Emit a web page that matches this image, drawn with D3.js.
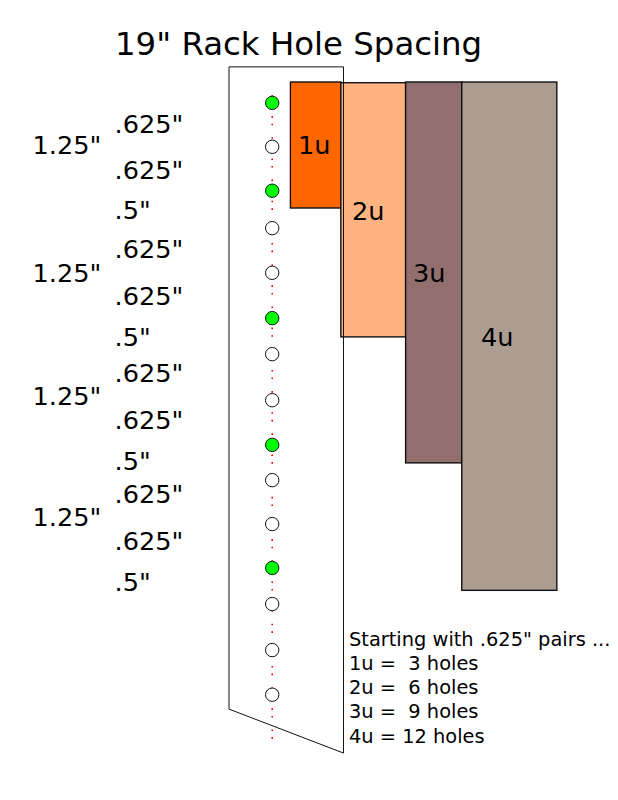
<!DOCTYPE html>
<html>
<head>
<meta charset="utf-8">
<script src="https://cdn.jsdelivr.net/npm/d3@7"></script>
<style>
  body { margin: 0; background: white; }
  text { font-family: "DejaVu Sans", sans-serif; fill: black; white-space: pre; }
</style>
</head>
<body>
<div id="chart"></div>
<script>
const holeOffsets = [0.29, 0.90, 1.51, 2.03, 2.65, 3.28, 3.78, 4.42, 5.04, 5.53, 6.14, 6.75, 7.25, 7.89, 8.51];
const holeMarked = [1, 0, 1, 0, 0, 1, 0, 0, 1, 0, 0, 1, 0, 0, 0];

const unitNames = ["1u", "2u", "3u", "4u"];
const unitLeft = [0.86, 1.56, 2.46, 3.24];
const unitRight = [1.56, 2.46, 3.24, 4.56];
const unitTop = [0, 0.01, 0, 0];
const unitBottom = [1.75, 3.54, 5.29, 7.06];
const unitColors = ["#ff6600", "#ffb380", "#916f6f", "#ac9d93"];

const spacingLabels = ['.625"', '.625"', '.5"', '.625"', '.625"', '.5"', '.625"', '.625"', '.5"', '.625"', '.625"', '.5"'];
const groupLabels = ['1.25"', '1.25"', '1.25"', '1.25"'];
const noteLines = ['Starting with .625" pairs ...', "1u =  3 holes", "2u =  6 holes", "3u =  9 holes", "4u = 12 holes"];

const w = 618;
const h = 800;
const pxPerInch = 72;

const x = d3.scaleLinear().domain([0, 1]).range([229, 229 + pxPerInch]);
const y = d3.scaleLinear().domain([0, 1]).range([82, 82 + pxPerInch]);

const svg = d3.select("#chart")
  .append("svg")
  .attr("width", w)
  .attr("height", h)
  .style("display", "block");

svg.append("text")
  .attr("x", 115)
  .attr("y", 54.5)
  .style("font-size", "32.4px")
  .text("19\" Rack Hole Spacing");

// rack units
const units = unitNames.map((name, i) => ({
  name, left: unitLeft[i], right: unitRight[i], top: unitTop[i], bottom: unitBottom[i], color: unitColors[i]
}));

svg.selectAll("rect.unit")
  .data(units)
  .enter()
  .append("rect")
  .attr("class", "unit")
  .attr("x", (d) => x(d.left) - 0.5)
  .attr("y", (d) => y(d.top))
  .attr("width", (d) => x(d.right) - x(d.left))
  .attr("height", (d) => y(d.bottom) - y(d.top))
  .style("fill", (d) => d.color)
  .style("stroke", "#111")
  .style("stroke-width", 1.4);

// rail outline goes over the units
const railOutline = [[0, -0.21], [1.59, -0.21], [1.59, 9.32], [0, 8.71]];
svg.append("path")
  .attr("d", d3.line().x((d) => x(d[0])).y((d) => y(d[1])).curve(d3.curveLinearClosed)(railOutline))
  .style("fill", "none")
  .style("stroke", "#111")
  .style("stroke-width", 1);

// red dotted centre line
svg.append("line")
  .attr("x1", x(0.6))
  .attr("x2", x(0.6))
  .attr("y1", y(0.18))
  .attr("y2", y(9.12))
  .style("stroke", "#ff0000")
  .style("stroke-width", 1.6)
  .style("stroke-dasharray", "1.6 6 1.6 11.95");

svg.selectAll("circle")
  .data(holeOffsets)
  .enter()
  .append("circle")
  .attr("cx", x(0.6))
  .attr("cy", (d) => y(d))
  .attr("r", 6.7)
  .style("fill", (d, i) => holeMarked[i] ? "#00ff00" : "white")
  .style("stroke", "#111")
  .style("stroke-width", 1);

// unit names
const unitLabelPos = [[298, 154], [352, 220], [413, 282], [481, 346]];
svg.selectAll("text.unitLabel")
  .data(unitNames)
  .enter()
  .append("text")
  .attr("class", "unitLabel")
  .attr("x", (d, i) => unitLabelPos[i][0])
  .attr("y", (d, i) => unitLabelPos[i][1])
  .style("font-size", "25.6px")
  .text((d) => d);

// spacing labels left of the rail
const spacingBaselines = [133, 179, 219, 258, 305, 346, 382, 429, 470, 503, 550, 591];
svg.selectAll("text.spacing")
  .data(spacingLabels)
  .enter()
  .append("text")
  .attr("class", "spacing")
  .attr("x", 114.5)
  .attr("y", (d, i) => spacingBaselines[i])
  .style("font-size", "25.6px")
  .text((d) => d);

const groupBaselines = [154, 282, 405, 526];
svg.selectAll("text.group")
  .data(groupLabels)
  .enter()
  .append("text")
  .attr("class", "group")
  .attr("x", 32.5)
  .attr("y", (d, i) => groupBaselines[i])
  .style("font-size", "25.6px")
  .text((d) => d);

// note bottom right
svg.selectAll("text.note")
  .data(noteLines)
  .enter()
  .append("text")
  .attr("class", "note")
  .attr("x", 349)
  .attr("y", (d, i) => 645.8 + i * 24.2)
  .style("font-size", "19.4px")
  .text((d) => d);
</script>
</body>
</html>
